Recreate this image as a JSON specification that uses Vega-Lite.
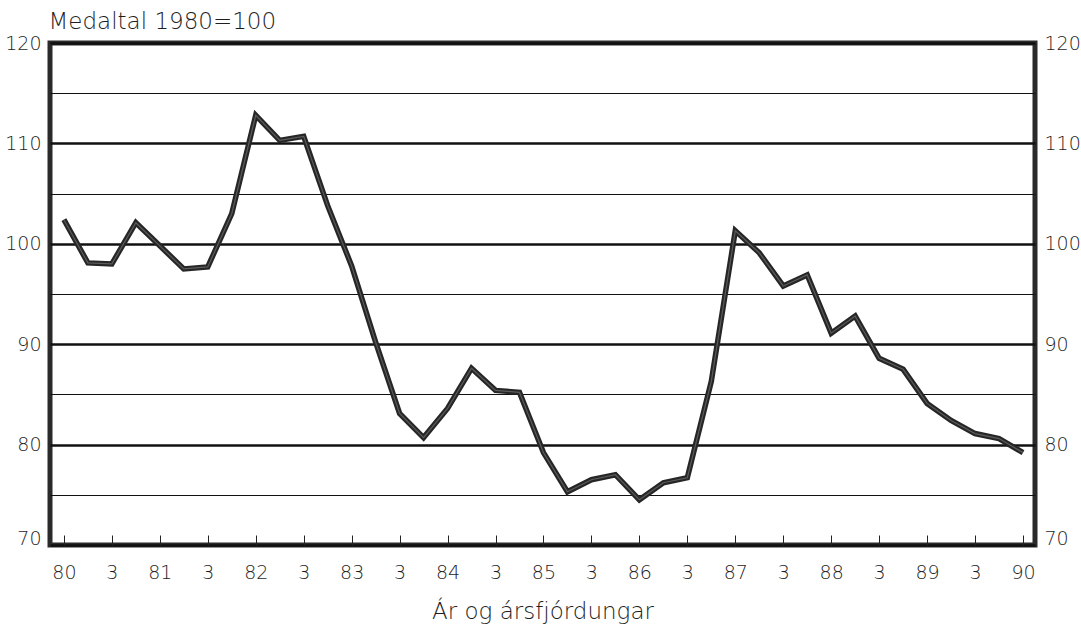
{
  "$schema": "https://vega.github.io/schema/vega-lite/v6.json",
  "width": 985,
  "height": 502,
  "autosize": "none",
  "padding": {"left": 50, "top": 43, "right": 46, "bottom": 89},
  "background": "#ffffff",
  "config": {
    "font": "DejaVu Sans",
    "view": {"stroke": "#2a2a2a", "strokeWidth": 5},
    "axis": {
      "labelFont": "DejaVu Sans",
      "labelFontWeight": 200,
      "labelFontSize": 19,
      "labelColor": "#1e1e1e",
      "titleFont": "DejaVu Sans",
      "titleFontWeight": 200,
      "titleColor": "#1e1e1e"
    }
  },
  "data": {
    "values": [
      {"q": 0, "v": 102.4}, {"q": 1, "v": 98.1}, {"q": 2, "v": 98.0}, {"q": 3, "v": 102.1},
      {"q": 4, "v": 99.8}, {"q": 5, "v": 97.5}, {"q": 6, "v": 97.7}, {"q": 7, "v": 103.0},
      {"q": 8, "v": 112.8}, {"q": 9, "v": 110.3}, {"q": 10, "v": 110.7}, {"q": 11, "v": 103.8},
      {"q": 12, "v": 97.8}, {"q": 13, "v": 90.2}, {"q": 14, "v": 83.1}, {"q": 15, "v": 80.7},
      {"q": 16, "v": 83.6}, {"q": 17, "v": 87.6}, {"q": 18, "v": 85.4}, {"q": 19, "v": 85.2},
      {"q": 20, "v": 79.2}, {"q": 21, "v": 75.3}, {"q": 22, "v": 76.5}, {"q": 23, "v": 77.0},
      {"q": 24, "v": 74.5}, {"q": 25, "v": 76.2}, {"q": 26, "v": 76.7}, {"q": 27, "v": 86.3},
      {"q": 28, "v": 101.3}, {"q": 29, "v": 99.1}, {"q": 30, "v": 95.8}, {"q": 31, "v": 96.9},
      {"q": 32, "v": 91.1}, {"q": 33, "v": 92.8}, {"q": 34, "v": 88.6}, {"q": 35, "v": 87.5},
      {"q": 36, "v": 84.1}, {"q": 37, "v": 82.4}, {"q": 38, "v": 81.1}, {"q": 39, "v": 80.6},
      {"q": 40, "v": 79.2}
    ]
  },
  "encoding": {
    "x": {
      "field": "q",
      "type": "quantitative",
      "scale": {"domain": [-0.58, 40.5], "nice": false, "zero": false},
      "axis": {
        "values": [0, 2, 4, 6, 8, 10, 12, 14, 16, 18, 20, 22, 24, 26, 28, 30, 32, 34, 36, 38, 40],
        "labelExpr": "datum.value % 4 === 0 ? format(80 + datum.value / 4, 'd') : '3'",
        "domain": false,
        "grid": false,
        "ticks": true,
        "tickSize": -10,
        "tickWidth": 1,
        "tickColor": "#222222",
        "labelPadding": 28,
        "title": "Ár og ársfjórdungar",
        "titleFontSize": 23,
        "titleBaseline": "alphabetic",
        "titleY": 73
      }
    }
  },
  "layer": [
    {
      "mark": {"type": "line", "color": "#262626", "strokeWidth": 5.5, "strokeJoin": "miter"},
      "encoding": {
        "y": {
          "field": "v",
          "type": "quantitative",
          "scale": {"domain": [70, 120], "nice": false, "zero": false},
          "axis": {
            "orient": "left",
            "values": [70, 75, 80, 85, 90, 95, 100, 105, 110, 115, 120],
            "labelExpr": "datum.value % 10 === 0 ? datum.label : ''",
            "labelOffset": {"condition": {"test": "datum.value === 70", "value": -7}, "value": 0},
            "grid": true,
            "gridColor": "#111111",
            "gridWidth": {"condition": {"test": "datum.value % 10 === 0", "value": 2.6}, "value": 1.1},
            "ticks": false,
            "domain": false,
            "labelPadding": 9,
            "title": "Medaltal 1980=100",
            "titleAngle": 0,
            "titleAlign": "left",
            "titleBaseline": "alphabetic",
            "titleFontSize": 23,
            "titleX": -2,
            "titleY": -15
          }
        }
      }
    },
    {
      "mark": {"type": "line", "color": "#5c5c5c", "strokeWidth": 1.2, "strokeJoin": "miter"},
      "encoding": {
        "y": {
          "field": "v",
          "type": "quantitative",
          "axis": {
            "orient": "right",
            "values": [70, 80, 90, 100, 110, 120],
            "labelOffset": {"condition": {"test": "datum.value === 70", "value": -7}, "value": 0},
            "grid": false,
            "ticks": false,
            "domain": false,
            "labelPadding": 9,
            "title": null
          }
        }
      }
    }
  ],
  "resolve": {"axis": {"y": "independent"}}
}
